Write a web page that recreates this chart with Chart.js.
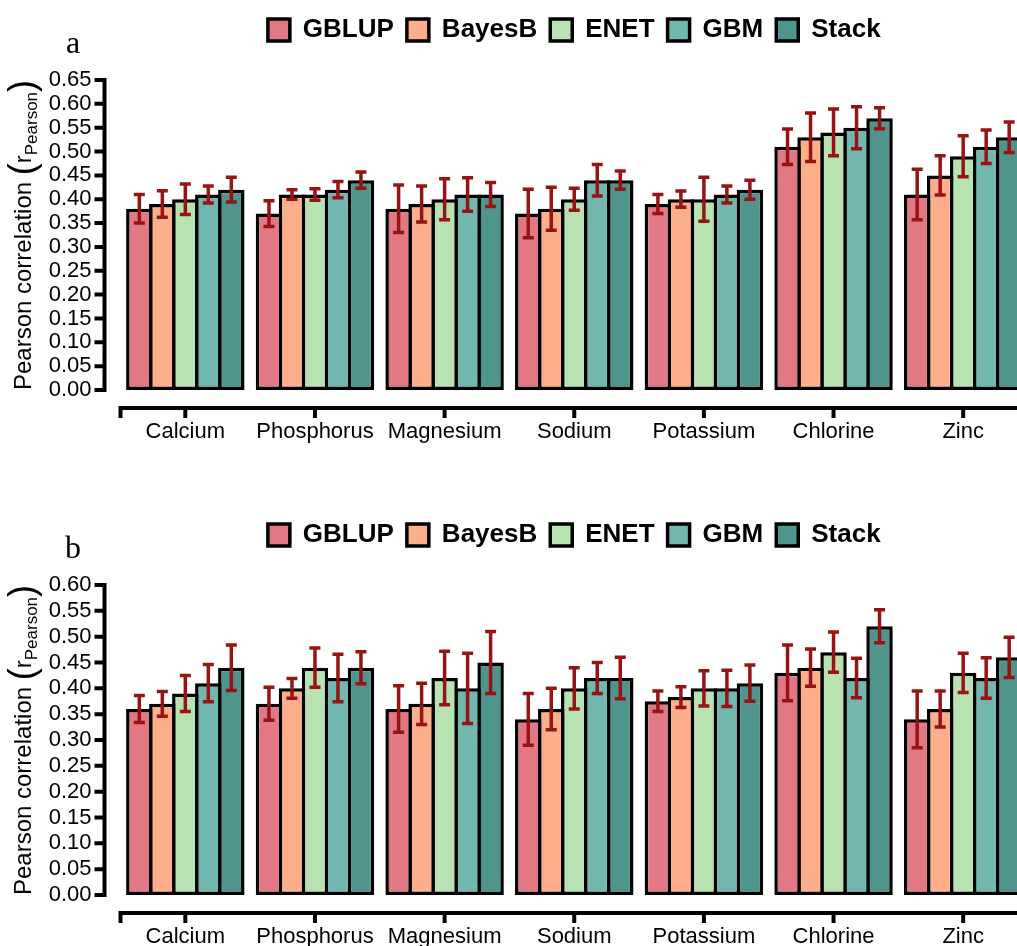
<!DOCTYPE html>
<html>
<head>
<meta charset="utf-8">
<script src="https://cdn.jsdelivr.net/npm/chart.js@4.4.1/dist/chart.umd.min.js"></script>
<style>
  body { margin: 0; background: #fff; overflow: hidden; width: 1017px; height: 946px; }
  .panel { position: absolute; left: 0; width: 1040px; height: 505px; }
</style>
</head>
<body>
<div class="panel" style="top:0"><canvas id="chartA" width="1040" height="505"></canvas></div>
<div class="panel" style="top:505px"><canvas id="chartB" width="1040" height="505"></canvas></div>
<script>
const nutrients = ['Calcium', 'Phosphorus', 'Magnesium', 'Sodium', 'Potassium', 'Chlorine', 'Zinc']
const models = ['GBLUP', 'BayesB', 'ENET', 'GBM', 'Stack']
const colors = ['#e17884', '#fcaf8a', '#b8e2b2', '#71b7b0', '#4f958d']

// panel a
const aGBLUP = [0.38, 0.37, 0.38, 0.37, 0.39, 0.51, 0.41]
const aBayesB = [0.39, 0.41, 0.39, 0.38, 0.40, 0.53, 0.45]
const aENET = [0.40, 0.41, 0.40, 0.40, 0.40, 0.54, 0.49]
const aGBM = [0.41, 0.42, 0.41, 0.44, 0.41, 0.55, 0.51]
const aStack = [0.42, 0.44, 0.41, 0.44, 0.42, 0.57, 0.53]
const aGBLUPErr = [0.030, 0.027, 0.050, 0.051, 0.020, 0.037, 0.053]
const aBayesBErr = [0.028, 0.010, 0.038, 0.045, 0.017, 0.051, 0.041]
const aENETErr = [0.032, 0.012, 0.043, 0.023, 0.046, 0.049, 0.043]
const aGBMErr = [0.018, 0.017, 0.035, 0.033, 0.018, 0.044, 0.035]
const aStackErr = [0.026, 0.017, 0.025, 0.019, 0.020, 0.022, 0.032]

// panel b
const bGBLUP = [0.36, 0.37, 0.36, 0.34, 0.375, 0.43, 0.34]
const bBayesB = [0.37, 0.40, 0.37, 0.36, 0.383, 0.44, 0.36]
const bENET = [0.39, 0.44, 0.42, 0.40, 0.40, 0.47, 0.43]
const bGBM = [0.41, 0.42, 0.40, 0.42, 0.40, 0.42, 0.42]
const bStack = [0.44, 0.44, 0.45, 0.42, 0.41, 0.52, 0.46]
const bGBLUPErr = [0.026, 0.032, 0.045, 0.050, 0.020, 0.054, 0.055]
const bBayesBErr = [0.024, 0.019, 0.040, 0.040, 0.020, 0.036, 0.035]
const bENETErr = [0.035, 0.038, 0.052, 0.040, 0.034, 0.039, 0.038]
const bGBMErr = [0.036, 0.046, 0.068, 0.030, 0.035, 0.038, 0.039]
const bStackErr = [0.044, 0.031, 0.060, 0.040, 0.035, 0.032, 0.039]

const FONT = 'Arial, "Liberation Sans", sans-serif'
const errColor = '#961414'

const legendHeight = {
  id: 'legendHeight',
  beforeInit (chart) {
    const fit = chart.legend.fit
    chart.legend.fit = function () {
      fit.call(this)
      this.height = 76
    }
  }
}

// error bars, axis lines (offset like ggplot), y title with subscript, panel letter
const extras = {
  id: 'extras',
  afterDatasetsDraw (chart, args, opts) {
    const ctx = chart.ctx
    const y = chart.scales.y
    ctx.save()
    ctx.strokeStyle = errColor
    ctx.lineWidth = 3.5
    chart.data.datasets.forEach((ds, di) => {
      chart.getDatasetMeta(di).data.forEach((bar, i) => {
        const top = y.getPixelForValue(ds.data[i] + ds.errors[i])
        const bot = y.getPixelForValue(ds.data[i] - ds.errors[i])
        ctx.beginPath()
        ctx.moveTo(bar.x, top)
        ctx.lineTo(bar.x, bot)
        ctx.moveTo(bar.x - 5.5, top)
        ctx.lineTo(bar.x + 5.5, top)
        ctx.moveTo(bar.x - 5.5, bot)
        ctx.lineTo(bar.x + 5.5, bot)
        ctx.stroke()
      })
    })
    ctx.restore()
  },
  afterDraw (chart, args, opts) {
    const ctx = chart.ctx
    const x = chart.scales.x
    const y = chart.scales.y
    const area = chart.chartArea
    ctx.save()
    ctx.strokeStyle = '#000'
    ctx.lineWidth = 4
    ctx.lineCap = 'square'

    // y axis
    const ax = area.left - 16
    ctx.beginPath()
    ctx.moveTo(ax, y.getPixelForValue(y.max))
    ctx.lineTo(ax, y.getPixelForValue(0))
    y.ticks.forEach(t => {
      const py = y.getPixelForValue(t.value)
      ctx.moveTo(ax, py)
      ctx.lineTo(ax - 8, py)
    })
    ctx.stroke()

    // x axis
    const ay = area.bottom + 18
    ctx.lineCap = 'butt'
    ctx.beginPath()
    ctx.moveTo(x.left - 2, ay)
    ctx.lineTo(chart.width, ay)
    ctx.moveTo(x.left, ay - 2)
    ctx.lineTo(x.left, ay + 10)
    x.ticks.forEach((t, i) => {
      const px = x.getPixelForTick(i)
      ctx.moveTo(px, ay)
      ctx.lineTo(px, ay + 10)
    })
    ctx.stroke()

    // y title
    ctx.fillStyle = '#000'
    ctx.translate(31, (area.top + area.bottom) / 2)
    ctx.rotate(-Math.PI / 2)
    const main = '24px ' + FONT
    const sub = '17px ' + FONT
    const paren = '36px ' + FONT
    const parts = [
      [main, 'Pearson correlation ', 0],
      [paren, '(', 3],
      [main, 'r', 0],
      [sub, 'Pearson', 6],
      [paren, ')', 3]
    ]
    let total = 0
    parts.forEach(p => { ctx.font = p[0]; total += ctx.measureText(p[1]).width })
    let cx = -total / 2
    ctx.textBaseline = 'alphabetic'
    parts.forEach(p => {
      ctx.font = p[0]
      ctx.fillText(p[1], cx, p[2])
      cx += ctx.measureText(p[1]).width
    })
    ctx.restore()

    // panel letter
    ctx.save()
    ctx.fillStyle = '#000'
    ctx.font = '32px "Liberation Serif", "Times New Roman", serif'
    ctx.textAlign = 'center'
    ctx.fillText(opts.letter, 73, 45)
    ctx.restore()
  }
}

function makeChart (id, letter, yMax, values, errors) {
  return new Chart(document.getElementById(id), {
    type: 'bar',
    data: {
      labels: nutrients,
      datasets: models.map((m, i) => ({
        label: m,
        data: values[i],
        errors: errors[i],
        backgroundColor: colors[i],
        borderColor: '#000',
        borderWidth: 3.5,
        borderSkipped: false,
        categoryPercentage: 0.887,
        barPercentage: 1.15
      }))
    },
    options: {
      responsive: false,
      animation: false,
      layout: { padding: { left: 0, right: 12, top: 4, bottom: 0 } },
      plugins: {
        tooltip: { enabled: false },
        extras: { letter },
        legend: {
          position: 'top',
          fullSize: false,
          labels: {
            color: '#000',
            boxWidth: 22,
            boxHeight: 22,
            padding: 13,
            font: { family: FONT, size: 26, weight: 'bold' }
          }
        }
      },
      scales: {
        x: {
          grid: { display: false, drawTicks: false },
          border: { display: false },
          ticks: { color: '#000', padding: 29, font: { family: FONT, size: 22 } },
          afterFit (s) { s.height = 115 }
        },
        y: {
          min: 0,
          max: yMax,
          grid: { display: false, drawTicks: false },
          border: { display: false },
          ticks: {
            stepSize: 0.05,
            autoSkip: false,
            color: '#000',
            padding: 29,
            font: { family: FONT, size: 22 },
            callback: v => v.toFixed(2)
          },
          afterFit (s) { s.width = 120.5 }
        }
      }
    },
    plugins: [legendHeight, extras]
  })
}

makeChart('chartA', 'a', 0.65,
  [aGBLUP, aBayesB, aENET, aGBM, aStack],
  [aGBLUPErr, aBayesBErr, aENETErr, aGBMErr, aStackErr])
makeChart('chartB', 'b', 0.60,
  [bGBLUP, bBayesB, bENET, bGBM, bStack],
  [bGBLUPErr, bBayesBErr, bENETErr, bGBMErr, bStackErr])
</script>
</body>
</html>
